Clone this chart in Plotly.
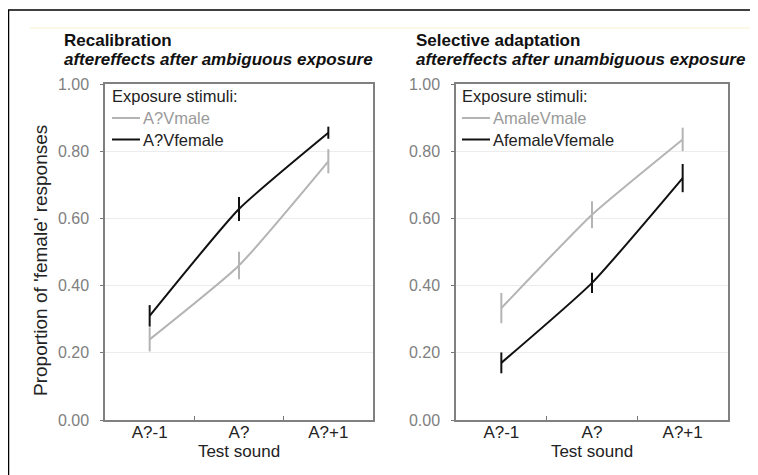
import plotly.graph_objects as go

categories = ["A?-1", "A?", "A?+1"]

# Left panel: Recalibration
recal_male = [0.24, 0.46, 0.77]
recal_male_err = [0.036, 0.041, 0.036]
recal_female = [0.31, 0.628, 0.855]
recal_female_err = [0.032, 0.036, 0.018]

# Right panel: Selective adaptation
sel_male = [0.333, 0.611, 0.835]
sel_male_err = [0.045, 0.04, 0.035]
sel_female = [0.17, 0.408, 0.72]
sel_female_err = [0.031, 0.03, 0.042]

y_ticks = [0, 0.2, 0.4, 0.6, 0.8, 1.0]
y_tick_labels = ["0.00", "0.20", "0.40", "0.60", "0.80", "1.00"]

legend_title = "Exposure stimuli:"
left_names = ["A?Vmale", "A?Vfemale"]
right_names = ["AmaleVmale", "AfemaleVfemale"]

GREY = "#b4b4b4"
BLACK = "#111111"
FONT = "Liberation Sans, Arial, sans-serif"
# page body has an 8px margin: the figure is drawn offset by 8px
OFF = 8
W, H = 758 - OFF, 475 - OFF

def px_x(v):
    return (v - OFF) / W

def px_y(v):
    return 1 - (v - OFF) / H

fig = go.Figure()

def add(x_axis, y_axis, vals, errs, color, name):
    fig.add_trace(go.Scatter(
        x=categories, y=vals, xaxis=x_axis, yaxis=y_axis,
        mode="lines", line=dict(color=color, width=2, shape="spline", smoothing=0.5),
        error_y=dict(type="data", array=errs, visible=True, color=color, thickness=2, width=0),
        name=name, showlegend=False,
    ))

add("x", "y", recal_male, recal_male_err, GREY, left_names[0])
add("x", "y", recal_female, recal_female_err, BLACK, left_names[1])
add("x2", "y2", sel_male, sel_male_err, GREY, right_names[0])
add("x2", "y2", sel_female, sel_female_err, BLACK, right_names[1])

ydom = [px_y(420), px_y(84)]

def xaxis(domain, anchor):
    return dict(
        domain=domain, anchor=anchor, type="category", range=[-0.5, 2.5],
        tickson="boundaries", ticks="inside", ticklen=4, tickcolor="#777",
        showline=True, linecolor="#808080", linewidth=1.5, mirror=True,
        showgrid=False, zeroline=False, ticklabelstandoff=-4, automargin=False,
        tickfont=dict(family=FONT, size=17, color="#222"),
        title=dict(text="Test sound", font=dict(family=FONT, size=17, color="#222"), standoff=0),
        fixedrange=True,
    )

def yaxis(anchor):
    return dict(
        domain=ydom, anchor=anchor, range=[0, 1.0],
        tickvals=y_ticks, ticktext=y_tick_labels,
        ticks="outside", ticklen=3, tickcolor="#777", ticklabelstandoff=8, automargin=False,
        showline=True, linecolor="#808080", linewidth=1.5, mirror=True,
        showgrid=True, gridcolor="#ececec", gridwidth=1, zeroline=False,
        tickfont=dict(family=FONT, size=16, color="#808080"),
        fixedrange=True,
    )

fig.update_layout(
    width=W, height=H,
    margin=dict(l=0, r=0, t=0, b=0, pad=0, autoexpand=False),
    paper_bgcolor="white", plot_bgcolor="white",
    font=dict(family=FONT),
    showlegend=False,
    xaxis=xaxis([px_x(105), px_x(373)], "y"),
    yaxis=yaxis("x"),
    xaxis2=xaxis([px_x(456), px_x(728)], "y2"),
    yaxis2=yaxis("x2"),
)

ann = []
shapes = []
for x0, t1, t2 in [(62, "Recalibration", "aftereffects after ambiguous exposure"),
                   (414, "Selective adaptation", "aftereffects after unambiguous exposure")]:
    ann.append(dict(x=px_x(x0), y=px_y(41), xref="paper", yref="paper", xanchor="left", yanchor="middle",
                    text=f"<b>{t1}</b>", showarrow=False, font=dict(family=FONT, size=17, color="#111")))
    ann.append(dict(x=px_x(x0), y=px_y(60), xref="paper", yref="paper", xanchor="left", yanchor="middle",
                    text=f"<b><i>{t2}</i></b>", showarrow=False, font=dict(family=FONT, size=17, color="#111")))

# legends (drawn manually for exact placement)
for lx, names in [(110, left_names), (460, right_names)]:
    ann.append(dict(x=px_x(lx), y=px_y(96), xref="paper", yref="paper", xanchor="left", yanchor="middle",
                    text=legend_title, showarrow=False, font=dict(family=FONT, size=16.5, color="#222")))
    for i, (nm, col, tcol) in enumerate(zip(names, [GREY, BLACK], ["#9a9a9a", "#222"])):
        yy = 118 + i * 21.5
        shapes.append(dict(type="line", xref="paper", yref="paper",
                           x0=px_x(lx + 2), x1=px_x(lx + 30), y0=px_y(yy), y1=px_y(yy),
                           line=dict(color=col, width=2)))
        ann.append(dict(x=px_x(lx + 31), y=px_y(yy), xref="paper", yref="paper", xanchor="left",
                        yanchor="middle", text=nm, showarrow=False,
                        font=dict(family=FONT, size=16.5, color=tcol)))

ann.append(dict(x=px_x(40), y=px_y(261), xref="paper", yref="paper", xanchor="center", yanchor="middle",
                text="Proportion of 'female' responses", textangle=-90, showarrow=False,
                font=dict(family=FONT, size=19, color="#222")))

shapes += [
    dict(type="line", xref="paper", yref="paper", x0=px_x(8.5), x1=px_x(8.5), y0=0, y1=px_y(10),
         line=dict(color="#000", width=1.5)),
    dict(type="line", xref="paper", yref="paper", x0=px_x(8), x1=1, y0=px_y(10), y1=px_y(10),
         line=dict(color="#000", width=1.5)),
    dict(type="line", xref="paper", yref="paper", x0=px_x(30), x1=px_x(752), y0=px_y(28), y1=px_y(28),
         line=dict(color="#f8f4cc", width=1)),
]
fig.update_layout(annotations=ann, shapes=shapes)

fig.write_html("out.html", config={"displayModeBar": False})
